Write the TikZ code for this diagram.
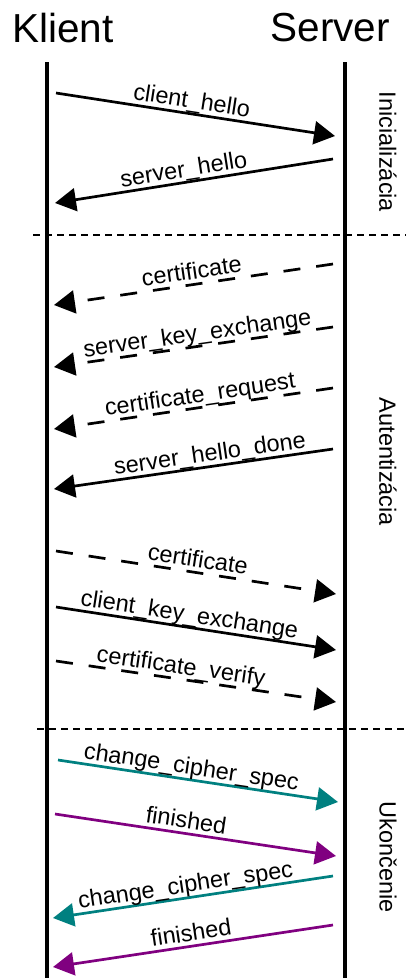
\documentclass[tikz,border=0pt]{standalone}
\usepackage{fontspec}
\setmainfont{Liberation Sans}
\usetikzlibrary{arrows.meta}

\definecolor{ccsteal}{RGB}{0,128,128}
\definecolor{finpurple}{RGB}{128,0,128}

\tikzset{
  lifeline/.style={line width=3.2pt, black},
  phasesep/.style={line width=1.7pt, black, dash pattern=on 6.5pt off 5.5pt},
  msg/.style={line width=2.7pt, -{Triangle[length=21pt,width=23pt]}},
  msgdashed/.style={msg, dash pattern=on 17pt off 16pt},
  lbl/.style={sloped, anchor=south, inner sep=1pt, font=\fontsize{23.5}{24}\selectfont,
              text height=16pt, text depth=3pt},
  title/.style={inner sep=0pt, font=\fontsize{40.5}{44}\selectfont},
  phase/.style={rotate=-90, inner sep=0pt, font=\fontsize{23.5}{24}\selectfont},
}

\begin{document}
\begin{tikzpicture}[x=1pt, y=-1pt]
\useasboundingbox (0,0) rectangle (406,978);

% participants
\node[title, anchor=base west] (klient) at (12,42) {Klient};
\node[title, anchor=base east] (server) at (390,41) {Server};

% lifelines
\coordinate (kTop) at (47,62);  \coordinate (kBot) at (47,978);
\coordinate (sTop) at (345,62); \coordinate (sBot) at (345,978);
\draw[lifeline] (kTop) -- (kBot);
\draw[lifeline] (sTop) -- (sBot);

% phase separators
\coordinate (sepA1) at (33,235);  \coordinate (sepA2) at (406,235);
\coordinate (sepB1) at (37,729);  \coordinate (sepB2) at (406,729);
\draw[phasesep] (sepA1) -- (sepA2);
\draw[phasesep] (sepB1) -- (sepB2);

% phase names
\node[phase] (ini) at (388,152) {Inicializácia};
\node[phase] (aut) at (388,462) {Autentizácia};
\node[phase] (uko) at (388,857) {Ukončenie};

% --- Inicializácia
\coordinate (m1a) at (56,93);   \coordinate (m1b) at (335,136);
\draw[msg] (m1a) -- node[lbl, pos=.48] {client\_hello} (m1b);
\coordinate (m2a) at (333,159); \coordinate (m2b) at (55,203);
\draw[msg] (m2a) -- node[lbl, pos=.53] {server\_hello} (m2b);

% --- Autentizácia
\coordinate (m3a) at (333,264); \coordinate (m3b) at (54,305);
\draw[msgdashed] (m3a) -- node[lbl, pos=.50] {certificate} (m3b);
\coordinate (m4a) at (333,327); \coordinate (m4b) at (54,367);
\draw[msgdashed] (m4a) -- node[lbl, pos=.48] {server\_key\_exchange} (m4b);
\coordinate (m5a) at (333,388); \coordinate (m5b) at (54,429);
\draw[msgdashed] (m5a) -- node[lbl, pos=.47] {certificate\_request} (m5b);
\coordinate (m6a) at (333,449); \coordinate (m6b) at (54,489);
\draw[msg] (m6a) -- node[lbl, pos=.435] {server\_hello\_done} (m6b);

\coordinate (m7a) at (56,551);  \coordinate (m7b) at (336,594);
\draw[msgdashed] (m7a) -- node[lbl, pos=.50] {certificate} (m7b);
\coordinate (m8a) at (56,607);  \coordinate (m8b) at (336,650);
\draw[msg] (m8a) -- node[lbl, pos=.47] {client\_key\_exchange} (m8b);
\coordinate (m9a) at (56,661);  \coordinate (m9b) at (336,702);
\draw[msgdashed] (m9a) -- node[lbl, pos=.44] {certificate\_verify} (m9b);

% --- Ukončenie
\coordinate (m10a) at (58,760);  \coordinate (m10b) at (338,802);
\draw[msg, ccsteal] (m10a) -- node[lbl, pos=.47, black] {change\_cipher\_spec} (m10b);
\coordinate (m11a) at (55,814);  \coordinate (m11b) at (336,856);
\draw[msg, finpurple] (m11a) -- node[lbl, pos=.46, black] {finished} (m11b);
\coordinate (m12a) at (333,876); \coordinate (m12b) at (53,918);
\draw[msg, ccsteal] (m12a) -- node[lbl, pos=.52, black] {change\_cipher\_spec} (m12b);
\coordinate (m13a) at (333,925); \coordinate (m13b) at (53,967);
\draw[msg, finpurple] (m13a) -- node[lbl, pos=.50, black] {finished} (m13b);
\end{tikzpicture}
\end{document}
